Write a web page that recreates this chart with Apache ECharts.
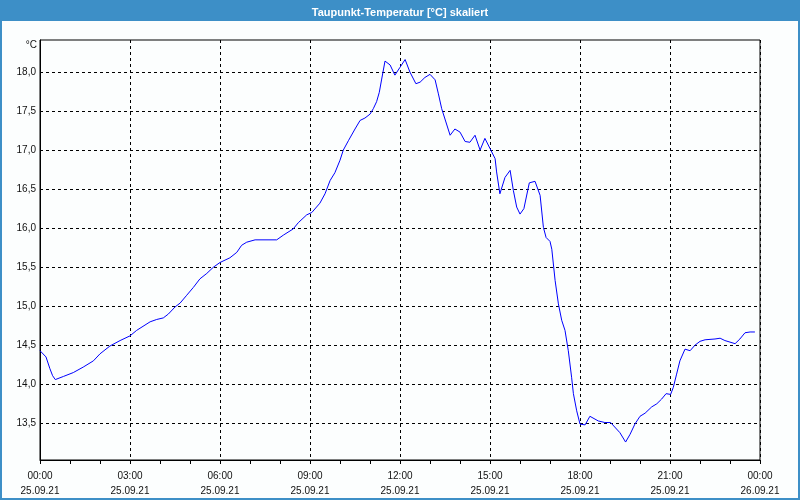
<!DOCTYPE html>
<html>
<head>
<meta charset="utf-8">
<script src="https://cdn.jsdelivr.net/npm/echarts@6/dist/echarts.min.js"></script>
<style>html,body{margin:0;padding:0;background:#fcfefe;}#c{width:800px;height:500px;}</style>
</head>
<body>
<div id="c"></div>
<script>
// hours since 25.09.21 00:00
var hours = [0,0.03,0.2,0.33,0.42,0.51,0.78,1.11,1.44,1.78,2.0,2.33,2.67,3.0,3.22,3.67,3.89,4.11,4.28,4.5,4.67,4.89,5.11,5.33,5.56,5.78,6.0,6.33,6.56,6.72,6.89,7.17,7.89,8.11,8.44,8.61,8.89,9.06,9.33,9.5,9.67,9.83,10.0,10.11,10.28,10.5,10.67,10.83,11.0,11.11,11.22,11.31,11.39,11.5,11.67,11.83,12.0,12.17,12.33,12.53,12.67,12.83,13.0,13.17,13.28,13.39,13.53,13.67,13.83,14.0,14.17,14.33,14.5,14.67,14.83,15.0,15.17,15.22,15.33,15.5,15.67,15.78,15.89,16.0,16.13,16.31,16.5,16.67,16.78,16.87,17.0,17.06,17.17,17.28,17.39,17.5,17.61,17.72,17.78,17.89,18.0,18.17,18.33,18.61,18.83,19.02,19.33,19.52,19.67,19.83,20.0,20.17,20.39,20.56,20.72,20.87,21.02,21.11,21.22,21.33,21.5,21.67,21.83,22.0,22.17,22.5,22.67,22.83,23.17,23.33,23.5,23.67,23.83];
var dewpoint = [14.43,14.41,14.35,14.20,14.11,14.06,14.10,14.15,14.22,14.30,14.39,14.49,14.56,14.62,14.69,14.80,14.83,14.85,14.90,14.99,15.04,15.14,15.24,15.35,15.42,15.50,15.56,15.62,15.69,15.78,15.82,15.85,15.85,15.91,15.99,16.07,16.17,16.20,16.32,16.44,16.61,16.71,16.87,17.00,17.12,17.27,17.38,17.41,17.46,17.53,17.62,17.74,17.91,18.14,18.09,17.96,18.06,18.16,18.00,17.85,17.87,17.93,17.97,17.90,17.72,17.53,17.36,17.19,17.27,17.23,17.11,17.10,17.19,17.00,17.15,17.02,16.89,16.72,16.44,16.65,16.74,16.48,16.27,16.18,16.25,16.58,16.60,16.42,16.01,15.88,15.83,15.73,15.33,15.03,14.82,14.69,14.43,14.09,13.88,13.66,13.49,13.48,13.59,13.53,13.51,13.51,13.38,13.26,13.36,13.49,13.59,13.63,13.71,13.75,13.81,13.88,13.87,13.96,14.13,14.30,14.45,14.43,14.50,14.55,14.57,14.58,14.59,14.56,14.52,14.58,14.66,14.67,14.67];
var yTicks = [13.5,14.0,14.5,15.0,15.5,16.0,16.5,17.0,17.5,18.0];
var xTickHours = [0,3,6,9,12,15,18,21,24];
var xTickTimes = ['00:00','03:00','06:00','09:00','12:00','15:00','18:00','21:00','00:00'];
var xTickDates = ['25.09.21','25.09.21','25.09.21','25.09.21','25.09.21','25.09.21','25.09.21','25.09.21','26.09.21'];
var titleText = 'Taupunkt-Temperatur [°C] skaliert';

var FONT = 'Liberation Sans';
var data = hours.map(function(h, i){ return [h, dewpoint[i]]; });
var chart = echarts.init(document.getElementById('c'));
chart.setOption({
  backgroundColor: '#fcfefe',
  animation: false,
  graphic: [
    {type:'rect', z:0, shape:{x:0,y:0,width:800,height:21}, style:{fill:'#3d8fc7'}},
    {type:'rect', z:0, shape:{x:1,y:1,width:798,height:498}, style:{fill:'none', stroke:'#3d8fc7', lineWidth:2}}
  ],
  title: {
    text: titleText, left: 'center', top: 2,
    textStyle: {color:'#ffffff', fontSize: 11, fontWeight:'bold', fontFamily: FONT}
  },
  grid: {left:40, right:40, top:40, bottom:40, show:true, borderColor:'#000', borderWidth:1, backgroundColor:'transparent'},
  xAxis: {
    type:'value', min:0, max:24, interval:3,
    axisLine:{show:true, lineStyle:{color:'#000', width:1}},
    axisTick:{show:true, length:4, lineStyle:{color:'#000'}},
    minorTick:{show:true, splitNumber:3, length:4, lineStyle:{color:'#000'}},
    splitLine:{show:true, lineStyle:{color:'#000', type:[3,3], width:1}},
    axisLabel:{
      margin:9, fontSize:10, lineHeight:15, color:'#111', fontFamily: FONT,
      formatter:function(v){ var i = xTickHours.indexOf(v); return i<0 ? '' : xTickTimes[i] + '\n' + xTickDates[i]; }
    }
  },
  yAxis: {
    type:'value', min:13.03, max:18.41,
    name:'°C', nameLocation:'end', nameGap:-5,
    nameTextStyle:{align:'right', verticalAlign:'middle', padding:[0,3,0,0], fontSize:10, color:'#111', fontFamily: FONT},
    axisLine:{show:true, lineStyle:{color:'#000', width:1}},
    axisTick:{show:false, customValues: yTicks},
    splitLine:{show:true, lineStyle:{color:'#000', type:[3,3], width:1}},
    axisLabel:{
      customValues: yTicks, margin:4, fontSize:10, color:'#111', fontFamily: FONT,
      formatter:function(v){ return v.toFixed(1).replace('.', ','); }
    }
  },
  series: [{
    type:'line', data:data, showSymbol:false, symbol:'none', smooth:false,
    lineStyle:{color:'#0000ff', width:1}
  }]
});
</script>
</body>
</html>
